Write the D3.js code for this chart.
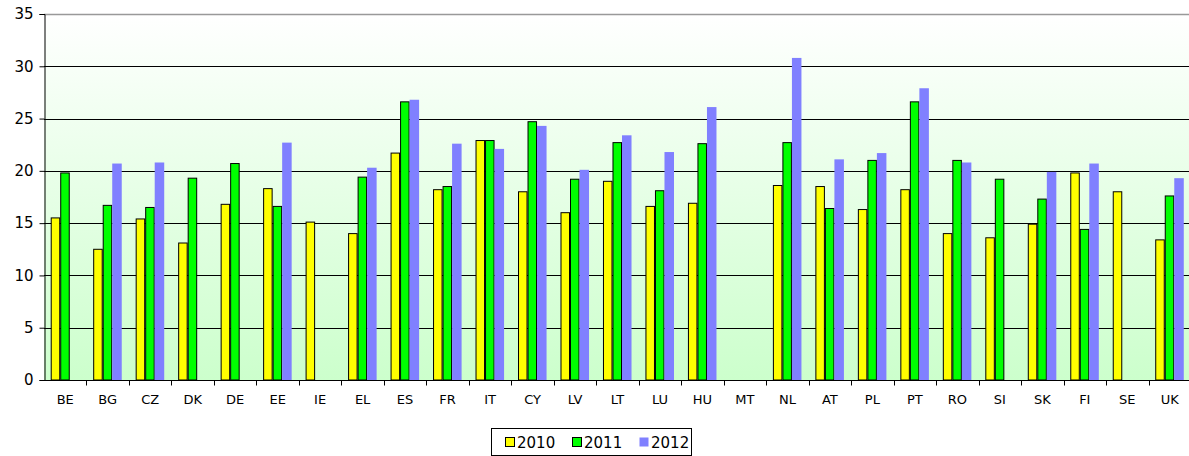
<!DOCTYPE html>
<html>
<head>
<meta charset="utf-8">
<script src="https://cdn.jsdelivr.net/npm/d3@7"></script>
<style>
  html, body { margin: 0; padding: 0; background: #fff; }
  svg { display: block; font-family: Verdana, "DejaVu Sans", sans-serif; }
</style>
</head>
<body>
<svg id="chart" width="1189" height="456"></svg>
<script>
// Country codes along the x axis
const categories = ["BE","BG","CZ","DK","DE","EE","IE","EL","ES","FR","IT","CY","LV","LT","LU","HU","MT","NL","AT","PL","PT","RO","SI","SK","FI","SE","UK"];
// Values per year (null = no data)
const values2010 = [15.5,12.5,15.4,13.1,16.8,18.3,15.1,14.0,21.7,18.2,22.9,18.0,16.0,19.0,16.6,16.9,null,18.6,18.5,16.3,18.2,14.0,13.6,14.9,19.8,18.0,13.4];
const values2011 = [19.8,16.7,16.5,19.3,20.7,16.6,null,19.4,26.6,18.5,22.9,24.7,19.2,22.7,18.1,22.6,null,22.7,16.4,21.0,26.6,21.0,19.2,17.3,14.4,null,17.6];
const values2012 = [null,20.7,20.8,null,null,22.7,null,20.3,26.8,22.6,22.1,24.3,20.1,23.4,21.8,26.1,null,30.8,21.1,21.7,27.9,20.8,null,19.9,20.7,null,19.3];
const seriesNames = ["2010","2011","2012"];
const yTicks = [0,5,10,15,20,25,30,35];

const series = [
  { name: seriesNames[0], values: values2010, fill: "#ffff00", stroke: "#000" },
  { name: seriesNames[1], values: values2011, fill: "#00ff00", stroke: "#000" },
  { name: seriesNames[2], values: values2012, fill: "#8080ff", stroke: "none" }
];

const svg = d3.select("#chart");
const plot = { left: 44, right: 1191, top: 14, bottom: 380 };

const x0 = d3.scaleBand().domain(categories).range([plot.left, plot.right]).padding(0);
const x1 = d3.scaleBand().domain(seriesNames)
  .range([x0.bandwidth() * 0.158, x0.bandwidth() * 0.83]).padding(0);
const y = d3.scaleLinear().domain([0, 35]).range([plot.bottom, plot.top]);

// Background gradient: white at the top to pale green at the base
const defs = svg.append("defs");
const grad = defs.append("linearGradient").attr("id", "bg")
  .attr("x1", 0).attr("y1", 0).attr("x2", 0).attr("y2", 1);
grad.append("stop").attr("offset", "0%").attr("stop-color", "#ffffff");
grad.append("stop").attr("offset", "100%").attr("stop-color", "#ccffcc");

svg.append("rect")
  .attr("x", plot.left).attr("y", plot.top)
  .attr("width", plot.right - plot.left).attr("height", plot.bottom - plot.top)
  .attr("fill", "url(#bg)");

// Horizontal grid lines
svg.append("g").selectAll("line")
  .data(yTicks.filter(t => t > 0 && t < 35))
  .join("line")
  .attr("x1", plot.left).attr("x2", plot.right)
  .attr("y1", d => Math.round(y(d)) + 0.5).attr("y2", d => Math.round(y(d)) + 0.5)
  .attr("stroke", "#000").attr("stroke-width", 1);

// Top border
svg.append("line")
  .attr("x1", plot.left).attr("x2", plot.right)
  .attr("y1", plot.top + 0.5).attr("y2", plot.top + 0.5)
  .attr("stroke", "#999").attr("stroke-width", 1.5);

// Bars
const groups = svg.append("g").selectAll("g")
  .data(series)
  .join("g");

groups.each(function(s) {
  d3.select(this).selectAll("rect")
    .data(categories.map((c, i) => ({ c, v: s.values[i] })).filter(d => d.v !== null))
    .join("rect")
    .attr("x", d => x0(d.c) + x1(s.name) + (s.stroke === "none" ? 0 : 0.5))
    .attr("y", d => y(d.v))
    .attr("width", x1.bandwidth() - (s.stroke === "none" ? 0 : 1))
    .attr("height", d => y(0) - y(d.v))
    .attr("fill", s.fill)
    .attr("stroke", s.stroke)
    .attr("stroke-width", 1);
});

// Y axis
const yAxis = d3.axisLeft(y).tickValues(yTicks).tickSize(5).tickPadding(6);
const gy = svg.append("g").attr("transform", `translate(${plot.left + 0.5},0)`).call(yAxis);
gy.select(".domain").attr("stroke", "#000");
gy.selectAll(".tick line").attr("stroke", "#000");
gy.selectAll(".tick text").attr("font-size", 15).attr("fill", "#000")
  .attr("font-family", "Verdana, 'DejaVu Sans', sans-serif");

// X axis: tick marks between categories, labels centred in each band
const gx = svg.append("g").attr("transform", `translate(0,${plot.bottom + 0.5})`);
gx.append("line").attr("x1", plot.left).attr("x2", plot.right).attr("stroke", "#000");
gx.selectAll("line.tk")
  .data(categories)
  .join("line").attr("class", "tk")
  .attr("x1", d => Math.round(x0(d) + x0.bandwidth()) + 0.5)
  .attr("x2", d => Math.round(x0(d) + x0.bandwidth()) + 0.5)
  .attr("y1", 0).attr("y2", 5).attr("stroke", "#000");
gx.selectAll("text")
  .data(categories)
  .join("text")
  .attr("x", d => x0(d) + x0.bandwidth() / 2)
  .attr("y", 23)
  .attr("text-anchor", "middle")
  .attr("font-size", 13)
  .attr("fill", "#000")
  .text(d => d);

// Legend
const legend = svg.append("g");
legend.append("rect")
  .attr("x", 491.5).attr("y", 428.5).attr("width", 200).attr("height", 27)
  .attr("fill", "#fff").attr("stroke", "#000");
const legendX = [505, 572, 639];
series.forEach((s, i) => {
  legend.append("rect")
    .attr("x", legendX[i] + 0.5).attr("y", 437.5).attr("width", 9).attr("height", 9)
    .attr("fill", s.fill).attr("stroke", s.stroke);
  legend.append("text")
    .attr("x", legendX[i] + 12).attr("y", 447.5)
    .attr("font-size", 15).attr("fill", "#000")
    .text(s.name);
});
</script>
</body>
</html>
